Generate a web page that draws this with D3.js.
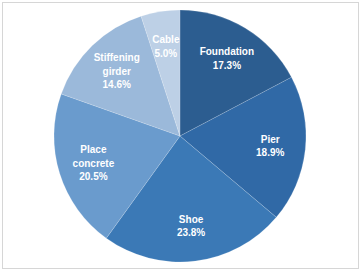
<!DOCTYPE html>
<html>
<head>
<meta charset="utf-8">
<script src="https://cdn.jsdelivr.net/npm/d3@7"></script>
<style>
  html, body { margin: 0; padding: 0; background: #fff; }
  svg { display: block; }
</style>
</head>
<body>
<div id="chart"></div>
<script>
const categories = ["Foundation", "Pier", "Shoe", "Place concrete", "Stiffening girder", "Cable"];
const shares = [17.3, 18.9, 23.8, 20.5, 14.6, 5.0];
const sliceColors = ["#2c5d90", "#3069a6", "#3b79b6", "#6a9bcd", "#9bb9da", "#bdd0e6"];

const W = 363, H = 274;
const cx = 180, cy = 136, radius = 126;

const svg = d3.select("#chart").append("svg")
  .attr("width", W).attr("height", H);

// chart frame
svg.append("rect")
  .attr("x", 2.5).attr("y", 2.5)
  .attr("width", 356).attr("height", 266)
  .attr("fill", "#fff").attr("stroke", "#d6d6d6").attr("stroke-width", 1);

const g = svg.append("g").attr("transform", `translate(${cx},${cy})`);

const data = categories.map((name, i) => ({ name, value: shares[i], color: sliceColors[i] }));

const pie = d3.pie().value(d => d.value).sort(null);
const arc = d3.arc().innerRadius(0).outerRadius(radius);
const labelArc = d3.arc().innerRadius(radius * 0.72).outerRadius(radius * 0.72);

const arcs = pie(data);

g.selectAll("path.slice").data(arcs).join("path")
  .attr("class", "slice")
  .attr("d", arc)
  .attr("fill", d => d.data.color)
  .attr("stroke", "#ffffff").attr("stroke-opacity", 0.2).attr("stroke-width", 0.8);

const lineH = 13.5;
const labels = g.selectAll("text.lbl").data(arcs).join("text")
  .attr("class", "lbl")
  .attr("text-anchor", "middle")
  .attr("fill", "#ffffff")
  .attr("font-family", "'Liberation Sans', Arial, sans-serif")
  .attr("font-size", 10)
  .attr("font-weight", 700)
  .attr("transform", d => `translate(${labelArc.centroid(d)})`);

labels.each(function(d) {
  const lines = d.data.name.split(" ").concat([d.data.value.toFixed(1) + "%"]);
  const t = d3.select(this);
  const top = -(lines.length - 1) * lineH / 2;
  lines.forEach((s, i) => {
    t.append("tspan")
      .attr("x", 0)
      .attr("y", top + i * lineH)
      .attr("dy", "0.35em")
      .text(s);
  });
});
</script>
</body>
</html>
